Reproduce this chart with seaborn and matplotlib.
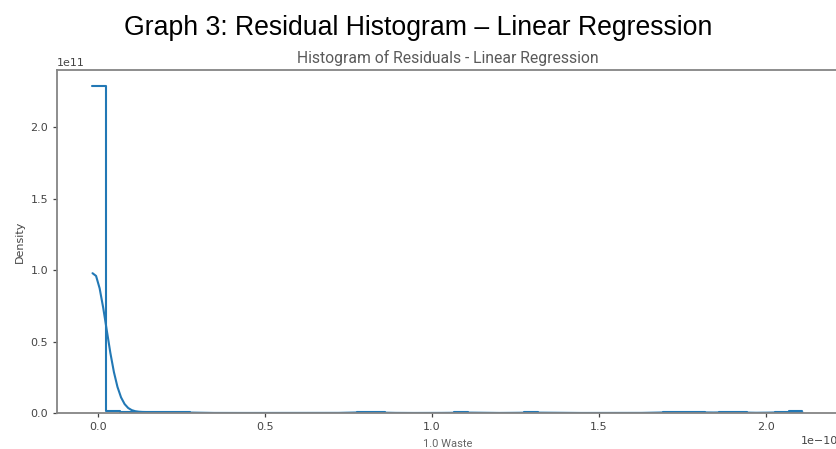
import numpy as np
import pandas as pd
import matplotlib
matplotlib.use("Agg")
import matplotlib.pyplot as plt
import seaborn as sns

# Residual values (in units of 1e-10) and how many residuals sit at each value
residual_values_e10 = [-0.017, -0.010, 0.000, 0.012,
                       0.035, 0.055, 0.080, 0.120, 0.160, 0.200, 0.260,
                       0.790, 0.820, 1.100, 1.300,
                       1.700, 1.740, 1.780, 1.870, 1.910, 2.040, 2.080, 2.110]
residual_counts = [310, 50, 20, 12,
                   1, 1, 1, 1, 1, 1, 1,
                   1, 1, 1, 1,
                   1, 1, 1, 1, 1, 1, 1, 1]

residuals = np.repeat(np.array(residual_values_e10), residual_counts) * 1e-10
df = pd.DataFrame({"residual": residuals})

sns.set_style("ticks")
plt.rcParams["font.family"] = ["DejaVu Sans"]

fig = plt.figure(figsize=(8.37, 4.49), dpi=100)
ax = fig.add_axes([57 / 837, 36 / 449, 781 / 837, 343 / 449])

sns.histplot(data=df, x="residual", stat="density", element="step", fill=False,
             kde=True, binwidth=0.042e-10, color="#2278b5", linewidth=1.5,
             kde_kws={"bw_adjust": 0.45}, line_kws={"linewidth": 1.5}, ax=ax)

for side in ["left", "top", "bottom"]:
    ax.spines[side].set_color("#858585")
    ax.spines[side].set_linewidth(1.3)
ax.spines["right"].set_visible(False)

ax.tick_params(axis="both", labelsize=8, colors="#444444", length=3, width=0.9)
ax.xaxis.get_offset_text().set_fontsize(8)
ax.xaxis.get_offset_text().set_color("#444444")
ax.yaxis.get_offset_text().set_fontsize(8)
ax.yaxis.get_offset_text().set_color("#444444")

ax.set_xticks(np.array([0.0, 0.5, 1.0, 1.5, 2.0]) * 1e-10)
ax.set_yticks(np.array([0.0, 0.5, 1.0, 1.5, 2.0]) * 1e11)

ax.set_title("Histogram of Residuals - Linear Regression", family=["Roboto", "DejaVu Sans"],
             fontsize=11.3, color="#5a5a5a", pad=5)
ax.set_xlabel("1.0 Waste", family=["Roboto", "DejaVu Sans"], fontsize=8, color="#666666",
              labelpad=5)
ax.set_ylabel("Density", fontsize=8, color="#444444", labelpad=4)

fig.text(0.5, 1 - 28 / 449, "Graph 3: Residual Histogram \u2013 Linear Regression",
         ha="center", va="center", family=["Liberation Sans", "DejaVu Sans"],
         fontsize=19.2, color="#000000")

fig.savefig("out.png", dpi=100)
